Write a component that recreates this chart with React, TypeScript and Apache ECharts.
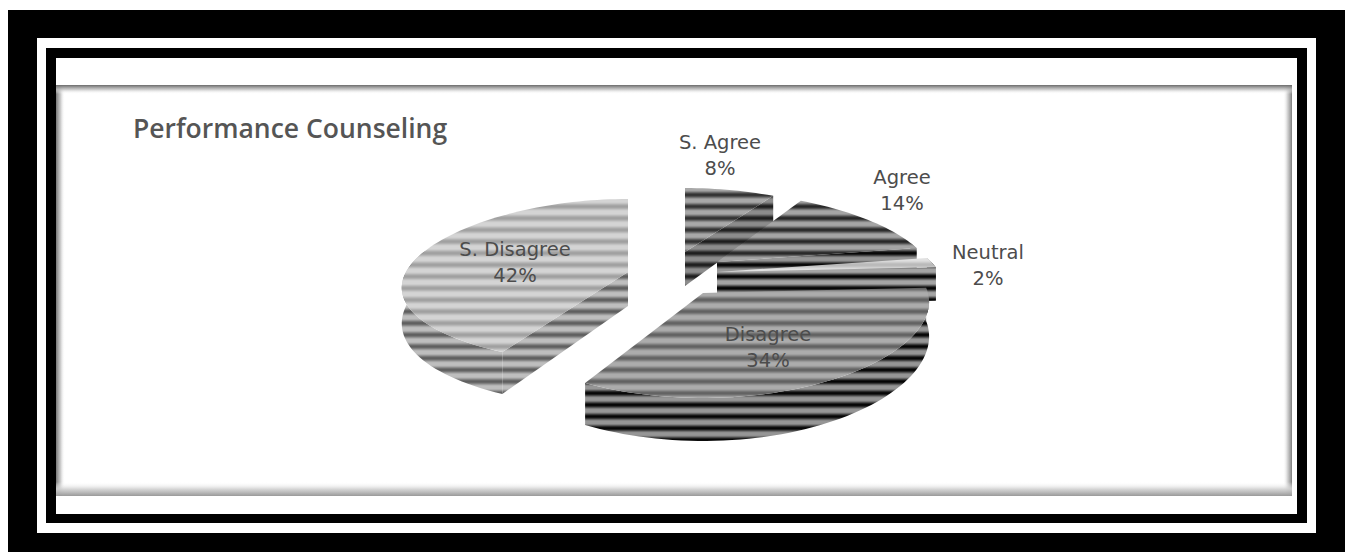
import React, { useEffect, useRef } from "react";
import * as echarts from "echarts";

const CHART_TITLE = "Performance Counseling";
const SLICE_NAMES = ["S. Agree", "Agree", "Neutral", "Disagree", "S. Disagree"];
const SLICE_VALUES = [8, 14, 2, 34, 42];

const TITLE_FONT = "'Open Sans', sans-serif";
const LABEL_FONT = "'DejaVu Sans', sans-serif";
const STRIPE_PERIOD = 70 / 6;
const STRIPE_PHASE = 8.2;

// A tall swatch of soft horizontal bands, anchored to the page so bands line up across slices.
function stripes(light: number, dark: number) {
  const canvas = document.createElement("canvas");
  canvas.width = 2;
  canvas.height = 70;
  const ctx = canvas.getContext("2d")!;
  for (let y = 0; y < 70; y++) {
    const t = (((y + 0.5 - STRIPE_PHASE) / STRIPE_PERIOD) % 1 + 1) % 1;
    const d = Math.min(t, 1 - t) * 2;
    const k = Math.min(1, d / 0.85);
    const v = Math.round(dark + (light - dark) * (k * k * (3 - 2 * k)));
    ctx.fillStyle = `rgb(${v},${v},${v})`;
    ctx.fillRect(0, y, 2, 1);
  }
  return { image: canvas, repeat: "repeat", imageWidth: 2, imageHeight: 70 };
}

// Pulled-out position of each slice's tip, its disc proportions, and its top and side shades.
const SLICE_LOOK: Record<string, any> = {
  "S. Agree": { tip: [685, 252], rx: 222, taper: 0.2, ry: 65, flat: 1, top: [168, 50], side: [140, 30], label: [720, 155] },
  Agree: { tip: [717, 262], rx: 211, taper: 0.2, ry: 76, flat: 7, top: [165, 40], side: [150, 5], label: [902, 190] },
  Neutral: { tip: [717, 272], rx: 222, taper: 0.2, ry: 75, flat: 0, top: [225, 185], side: [165, 5], label: [988, 265] },
  Disagree: { tip: [703, 293], rx: 225, taper: 0.1, ry: 86.5, flat: 18.5, top: [172, 98], side: [150, 5], label: [768, 347] },
  "S. Disagree": { tip: [628, 272], rx: 222, taper: 0.2, ry: 82.8, flat: 9.8, top: [212, 160], side: [190, 95], label: [515, 262] },
};

const RAD = Math.PI / 180;

// Tilted view: the far side of the disc is narrower and flatter than the near side.
function rimPoint(look: any, deg: number) {
  const c = Math.cos(deg * RAD);
  const s = Math.sin(deg * RAD);
  return [
    look.tip[0] + look.rx * (1 - look.taper * c) * s,
    look.tip[1] - c * (look.ry - look.flat * c),
  ];
}
const wallHeight = (deg: number) => 34 - 9 * Math.cos(deg * RAD);
const drop = (p: number[], h: number) => [p[0], p[1] + h];

function arcPoints(look: any, from: number, to: number) {
  const pts: number[][] = [];
  const n = Math.max(2, Math.ceil((to - from) / 2));
  for (let i = 0; i <= n; i++) pts.push(rimPoint(look, from + ((to - from) * i) / n));
  return pts;
}

export default function App() {
  const ref = useRef<HTMLDivElement>(null);

  useEffect(() => {
    const chart = echarts.init(ref.current!, null, { renderer: "svg" });
    const total = SLICE_VALUES.reduce((a, b) => a + b, 0);
    const looks = SLICE_NAMES.map((name) => {
      const l = SLICE_LOOK[name];
      return {
        ...l,
        topFill: stripes(l.top[0], l.top[1]),
        sideFill: stripes(l.side[0], l.side[1]),
      };
    });

    const renderItem = (params: any, api: any) => {
      const i = params.dataIndex;
      const before = SLICE_VALUES.slice(0, i).reduce((a, b) => a + b, 0);
      const start = (before / total) * 360;
      const end = start + (api.value(0) / total) * 360;
      const look = looks[i];
      const tip = look.tip;
      const children: any[] = [];

      const radialWall = (deg: number) => {
        const p = rimPoint(look, deg);
        children.push({
          type: "polygon",
          shape: { points: [tip, p, drop(p, wallHeight(deg)), drop(tip, 34)] },
          style: { fill: look.sideFill },
        });
      };
      if (end < 180) radialWall(end);
      if (start > 180) radialWall(start);

      const a = Math.max(start, 75);
      const b = Math.min(end, 285);
      if (b > a) {
        const upper = arcPoints(look, a, b);
        const lower = upper
          .map((p, k) => drop(p, wallHeight(a + ((b - a) * k) / (upper.length - 1))))
          .reverse();
        children.push({
          type: "polygon",
          shape: { points: [...upper, ...lower] },
          style: { fill: look.sideFill },
        });
      }

      children.push({
        type: "polygon",
        shape: { points: [tip, ...arcPoints(look, start, end)] },
        style: { fill: look.topFill },
      });

      children.push({
        type: "text",
        z2: 100,
        style: {
          text: `${SLICE_NAMES[i]}\n${api.value(0)}%`,
          x: look.label[0],
          y: look.label[1],
          align: "center",
          verticalAlign: "middle",
          font: `19.5px ${LABEL_FONT}`,
          lineHeight: 26,
          fill: "#4c4c4c",
        },
      });
      return { type: "group", children };
    };

    const band = (x: number, y: number, w: number, h: number, x2: number, y2: number, stops: string[]) => ({
      type: "rect",
      shape: { x, y, width: w, height: h },
      style: {
        fill: {
          type: "linear",
          x: 0,
          y: 0,
          x2,
          y2,
          colorStops: stops.map((color, k) => ({ offset: k / (stops.length - 1), color })),
        },
      },
    });
    const box = (x: number, y: number, x1: number, y1: number, fill: string) => ({
      type: "rect",
      shape: { x, y, width: x1 - x, height: y1 - y },
      style: { fill },
    });
    const CLEAR = "rgba(255,255,255,0)";

    chart.setOption({
      animation: false,
      backgroundColor: "#fff",
      graphic: {
        elements: [
          box(8, 10, 1345, 552, "#000"),
          box(37, 38, 1316, 533, "#fff"),
          box(46, 48, 1307, 523, "#000"),
          box(56, 58, 1297, 514, "#fff"),
          band(56, 85, 9, 411, 1, 0, ["#777777", "rgba(190,190,190,0.8)", CLEAR]),
          band(1283, 85, 9, 411, 1, 0, [CLEAR, "rgba(200,200,200,0.8)", "#7c7c7c"]),
          band(56, 85, 1236, 9, 0, 1, ["#6a6a6a", "rgba(190,190,190,0.8)", CLEAR]),
          band(56, 482, 1236, 14, 0, 1, [CLEAR, "rgba(210,210,210,0.9)", "#999999"]),
          {
            type: "text",
            style: {
              text: CHART_TITLE,
              x: 133,
              y: 128,
              verticalAlign: "middle",
              font: `600 26.5px ${TITLE_FONT}`,
              fill: "#555555",
            },
          },
        ],
      },
      series: [
        {
          type: "custom",
          coordinateSystem: "none",
          silent: true,
          data: SLICE_VALUES.map((v, i) => ({ name: SLICE_NAMES[i], value: [v] })),
          renderItem,
        },
      ],
    });
    return () => chart.dispose();
  }, []);

  return (
    <div
      ref={ref}
      style={{ position: "absolute", left: 0, top: 0, width: 1351, height: 552, overflow: "hidden" }}
    />
  );
}
